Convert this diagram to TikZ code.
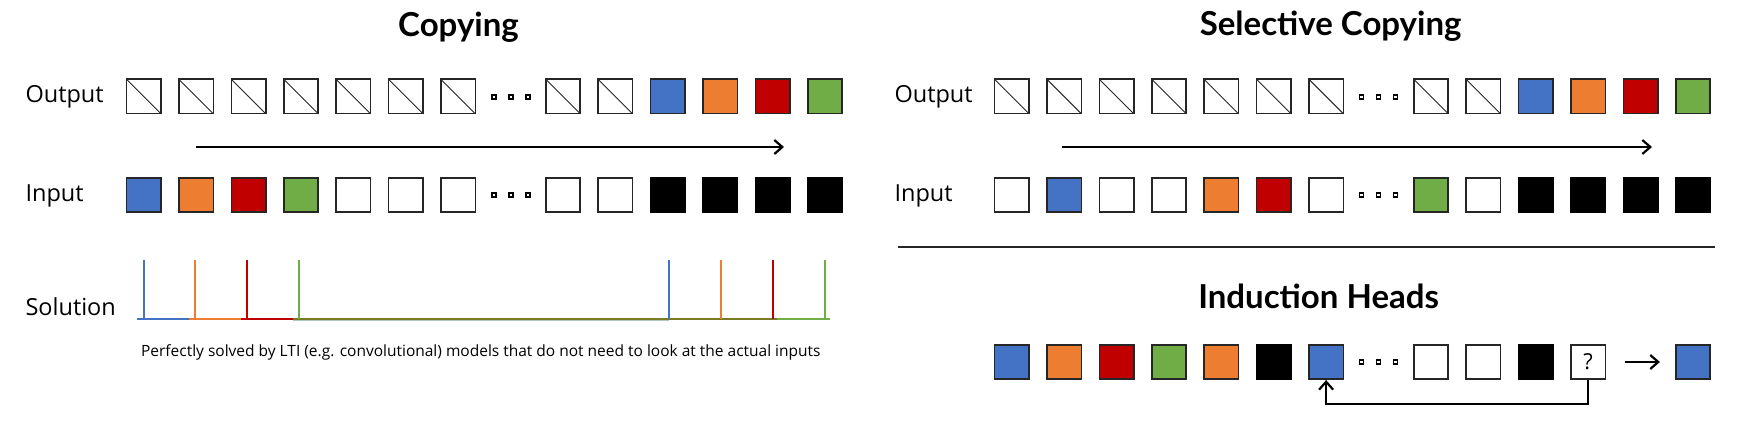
\documentclass[tikz,border=0pt]{standalone}
\usepackage{fontspec}
\setmainfont{Open Sans}
\newfontfamily\headfont{Lato}
\usetikzlibrary{arrows.meta}
\definecolor{tokblue}{HTML}{4472C4}
\definecolor{tokorange}{HTML}{ED7D31}
\definecolor{tokred}{HTML}{C00000}
\definecolor{tokgreen}{HTML}{70AD47}
\definecolor{tokolive}{HTML}{7A7A24}

\begin{document}
\begin{tikzpicture}[x=1pt, y=-1pt,
    cell/.style = {draw=black!85, line width=1.6pt, minimum size=34.4pt, inner sep=0pt, fill=white},
    cross/.style = {cell, path picture={\draw[line width=0.9pt] (path picture bounding box.north west) -- (path picture bounding box.south east);}},
    empty/.style = {cell},
    tblue/.style = {cell, fill=tokblue},
    torange/.style = {cell, fill=tokorange},
    tred/.style = {cell, fill=tokred},
    tgreen/.style = {cell, fill=tokgreen},
    tblack/.style = {cell, fill=black, draw=black},
    query/.style = {cell, font=\fontsize{22}{22}\selectfont},
    dot/.style = {draw=black, line width=1.3pt, minimum size=4pt, inner sep=0pt, fill=white},
    title/.style = {anchor=base, font=\headfont\bfseries\fontsize{33}{33}\selectfont},
    lbl/.style = {anchor=base west, font=\fontsize{23.5}{24}\selectfont},
    spike/.style = {line width=2pt},
    >={Straight Barb[length=8pt, width=14pt]},
    arr/.style = {->, line width=2.2pt}]
  \useasboundingbox (0,0) rectangle (1744,438);

  % Copying
  \node[title] (tcopy) at (458.5,37) {Copying};
  \node[lbl] (lout) at (22,103) {Output};
  \node[lbl] (lin) at (22,201.5) {Input};
  \node[lbl] (lsol) at (22,315) {Solution};
  \foreach \s [count=\i from 0] in {cross,cross,cross,cross,cross,cross,cross,cross,cross,tblue,torange,tred,tgreen}
    \node[\s] (lo\i) at ({143.7+52.4*(\i+(\i>6))},96.5) {};
  \foreach \s [count=\i from 0] in {tblue,torange,tred,tgreen,empty,empty,empty,empty,empty,tblack,tblack,tblack,tblack}
    \node[\s] (li\i) at ({143.7+52.4*(\i+(\i>6))},195) {};
  \coordinate (la) at (195.7,147);
  \coordinate (lb) at (784,147);
  \draw[arr] (la) -- (lb);

  % solution kernel
  \draw[spike, tokblue] (136.7,319) -- (188.7,319);
  \draw[spike, tokorange] (188.7,319) -- (241.3,319);
  \draw[spike, tokred] (241.3,319) -- (293.3,319);
  \draw[line width=1pt, tokblue!40!tokgreen!50] (293.3,320.5) -- (669,320.5);
  \draw[spike, tokgreen] (777,319) -- (830,319);
  \draw[spike, tokolive] (293.3,319) -- (777,319);
  \foreach \c/\x in {tokblue/143.7, tokorange/195.3, tokred/247.3, tokgreen/299.3, tokblue/669, tokorange/720.7, tokred/772.7, tokgreen/824.7}
    \draw[spike, \c] (\x,260) -- (\x,319);
  \node[anchor=base west, font=\fontsize{15.5}{16}\selectfont] (caption) at (137.6,356) {Perfectly solved by LTI (e.g. convolutional) models that do not need to look at the actual inputs};

  % Selective Copying
  \node[title] (tsel) at (1330.6,36) {Selective Copying};
  \node[lbl] (rout) at (891,103) {Output};
  \node[lbl] (rin) at (891,201.5) {Input};
  \foreach \s [count=\i from 0] in {cross,cross,cross,cross,cross,cross,cross,cross,cross,tblue,torange,tred,tgreen}
    \node[\s] (ro\i) at ({1011.7+52.4*(\i+(\i>6))},96.5) {};
  \foreach \s [count=\i from 0] in {empty,tblue,empty,empty,torange,tred,empty,tgreen,empty,tblack,tblack,tblack,tblack}
    \node[\s] (ri\i) at ({1011.7+52.4*(\i+(\i>6))},195) {};
  \coordinate (ra) at (1062,147);
  \coordinate (rb) at (1652,147);
  \draw[arr] (ra) -- (rb);
  \draw[line width=2.5pt, black!85] (898,247) -- (1715,247);

  % Induction Heads
  \node[title] (tind) at (1318.6,308) {Induction Heads};
  \foreach \s [count=\i from 0] in {tblue,torange,tred,tgreen,torange,tblack,tblue,empty,empty,tblack}
    \node[\s] (h\i) at ({1011.7+52.4*(\i+(\i>6))},362) {};
  \node[query] (h10) at (1588.1,362) {?};
  \node[tblue] (ans) at (1692.9,362) {};
  \draw[arr, shorten <=19pt, shorten >=15pt] (h10) -- (ans);
  \draw[arr] (h10.south) -- ++(0,24) -| (h6.south);

  % gaps
  \foreach \x/\y [count=\r] in {511/97, 511/195, 1378.5/97, 1378.5/195, 1378.5/362}
    \foreach \d [count=\j] in {-17,0,17}
      \node[dot] (dot\r\j) at (\x+\d,\y) {};
\end{tikzpicture}
\end{document}
